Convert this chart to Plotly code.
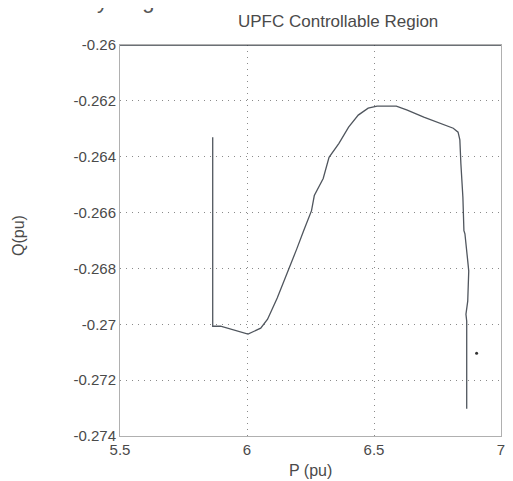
import plotly.graph_objects as go

# Main boundary curve (P, Q)
P_curve = [5.865, 5.865, 5.896, 5.938, 6.004, 6.054, 6.081, 6.119, 6.158, 6.196,
           6.223, 6.254, 6.265, 6.300, 6.323, 6.362, 6.400, 6.438, 6.477, 6.512,
           6.588, 6.631, 6.696, 6.762, 6.812, 6.831, 6.838, 6.842, 6.850, 6.854,
           6.858, 6.869, 6.873, 6.869, 6.862, 6.865, 6.865]
Q_curve = [-0.2633, -0.27007, -0.27007, -0.27018, -0.27035, -0.27014, -0.26982, -0.26906, -0.26820, -0.26730,
           -0.26665, -0.26593, -0.26539, -0.26478, -0.26402, -0.26352, -0.26294, -0.26251, -0.26226, -0.26219,
           -0.26219, -0.26233, -0.26258, -0.26280, -0.26298, -0.26312, -0.26340, -0.26424, -0.26546, -0.26665,
           -0.26676, -0.26773, -0.26809, -0.26917, -0.26964, -0.26989, -0.27302]

# Top boundary line
P_top = [5.5, 7.0]
Q_top = [-0.26, -0.26]

# Isolated point
P_dot = [6.904]
Q_dot = [-0.27104]

x_ticks = [5.5, 6, 6.5, 7]
x_labels = ["5.5", "6", "6.5", "7"]
y_ticks = [-0.26, -0.262, -0.264, -0.266, -0.268, -0.27, -0.272, -0.274]
y_labels = ["-0.26", "-0.262", "-0.264", "-0.266", "-0.268", "-0.27", "-0.272", "-0.274"]

# page offset (browser body margin); visible width ends near x=505
OFF = 8
W, H = 497, 473
PL, PR, PT, PB = 120, 501, 45, 436  # desired plot box in window pixels
ml = PL - OFF
mr = W - (PR - OFF)
mt = PT - OFF
mb = H - (PB - OFF)
plot_w = PR - PL
plot_h = PB - PT


def px(x):
    return (x - PL) / plot_w


def py(y):
    return (PB - y) / plot_h


line_col = "#50565e"
fig = go.Figure()
fig.add_trace(go.Scatter(x=P_top, y=Q_top, mode="lines",
                         line=dict(color="#3a4048", width=1.6), showlegend=False, cliponaxis=False))
fig.add_trace(go.Scatter(x=P_curve, y=Q_curve, mode="lines",
                         line=dict(color=line_col, width=1.3), showlegend=False))
fig.add_trace(go.Scatter(x=P_dot, y=Q_dot, mode="markers",
                         marker=dict(color="#333", size=3), showlegend=False))

font = "Liberation Sans, Arial, Helvetica, sans-serif"
txt_col = "#4a4a4a"
axis_common = dict(showline=True, linecolor="#b0b0b0", linewidth=1, mirror=True,
                   showgrid=True, gridcolor="#8a8a8a", griddash="1px,5px", gridwidth=1.2,
                   zeroline=False, ticks="", ticklabeloverflow="allow",
                   tickfont=dict(family=font, size=15, color=txt_col))

fig.update_layout(
    width=W, height=H,
    margin=dict(l=ml, r=mr, t=mt, b=mb, autoexpand=False),
    plot_bgcolor="white", paper_bgcolor="white",
    xaxis=dict(range=[5.5, 7], tickvals=x_ticks, ticktext=x_labels, **axis_common),
    yaxis=dict(range=[-0.274, -0.26], tickvals=y_ticks, ticktext=y_labels, **axis_common),
    annotations=[
        dict(text="UPFC Controllable Region", x=px(338), y=py(22), xref="paper", yref="paper",
             xanchor="center", yanchor="middle",
             showarrow=False, font=dict(family=font, size=17, color=txt_col)),
        dict(text="P (pu)", x=px(310), y=py(470), xref="paper", yref="paper",
             xanchor="center", yanchor="middle",
             showarrow=False, font=dict(family=font, size=16, color=txt_col)),
        dict(text="Q(pu)", x=px(18), y=py(235), xref="paper", yref="paper", textangle=-90,
             xanchor="center", yanchor="middle",
             showarrow=False, font=dict(family=font, size=16, color=txt_col)),
        dict(text="Controllability Region", x=px(186), y=py(-14), xref="paper", yref="paper",
             xanchor="right", yanchor="top", showarrow=False,
             font=dict(family=font, size=22, color="#555")),
    ],
)
fig.write_html("out.html")
